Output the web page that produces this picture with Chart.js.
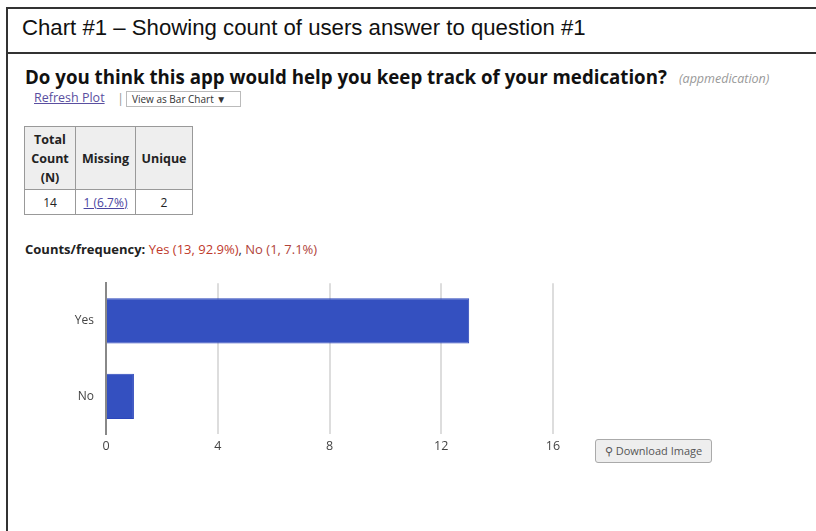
<!DOCTYPE html>
<html>
<head>
<meta charset="utf-8">
<script src="https://cdn.jsdelivr.net/npm/chart.js@4"></script>
<style>
    html { overflow: hidden; }
    body { margin: 0; background: #fff; width: 816px; height: 531px; overflow: hidden; position: relative; font-family: "Open Sans", sans-serif; }
    .box { position: absolute; left: 6px; top: 7px; width: 900px; height: 600px; border-left: 2px solid #333; border-top: 2px solid #333; }
    .head { position: absolute; left: 0; top: 0; width: 100%; height: 43px; border-bottom: 2px solid #333; }
    .head span { position: absolute; left: 14px; top: 6px; font-family: "Liberation Sans", Arial, sans-serif; font-size: 22.2px; color: #111; white-space: nowrap; }
    .abs { position: absolute; white-space: nowrap; }
    .title { left: 25px; top: 64px; font-size: 18.7px; font-weight: bold; color: #111; }
    .var { left: 679px; top: 70px; font-size: 12.5px; font-style: italic; color: #999; }
    .refresh { left: 34px; top: 89px; font-size: 12.5px; color: #5a4fa0; text-decoration: underline; }
    .pipe { left: 117px; top: 89px; font-size: 13px; color: #999; }
    .select { left: 126px; top: 91px; width: 115px; height: 16px; border: 1px solid #bbb; font-size: 10px; color: #333; line-height: 14px; padding-left: 5px; box-sizing: border-box; }
    table { position: absolute; left: 24px; top: 126px; border-collapse: collapse; font-size: 12px; color: #222; }
    td { border: 1px solid #999; text-align: center; padding: 0; }
    thead td { background: #eee; font-weight: bold; height: 62px; line-height: 19px; font-size: 12.5px; }
    tbody td { height: 24px; }
    .link { color: #4a44a0; text-decoration: underline; }
    .counts { left: 25px; top: 240px; font-size: 13px; color: #333; }
    .counts b { color: #222; }
    .red { color: #c0392b; }
    .brown { color: #b0443a; }
    .download { left: 595px; top: 439px; width: 117px; height: 24px; box-sizing: border-box; border: 1px solid #aaa; border-radius: 3px; background: #eee; font-size: 11px; color: #555; line-height: 22px; text-align: center; }
    #wrap { position: absolute; left: 60px; top: 264px; }
</style>
</head>
<body>
<div class="box"><div class="head"><span>Chart #1 – Showing count of users answer to question #1</span></div></div>

<div class="abs title">Do you think this app would help you keep track of your medication?</div>
<div class="abs var">(appmedication)</div>
<div class="abs refresh">Refresh Plot</div>
<div class="abs pipe">|</div>
<div class="abs select">View as Bar Chart ▼</div>

<table>
    <thead><tr><td style="width:50px">Total<br>Count<br>(N)</td><td style="width:59px">Missing</td><td style="width:56px">Unique</td></tr></thead>
    <tbody><tr><td>14</td><td><span class="link">1 (6.7%)</span></td><td>2</td></tr></tbody>
</table>

<div class="abs counts"><b>Counts/frequency:</b> <span class="red">Yes (13, 92.9%)</span>, <span class="brown">No (1, 7.1%)</span></div>

<div id="wrap"><canvas id="answerChart" width="506" height="200"></canvas></div>

<div class="abs download">⚲ Download Image</div>

<script>
    // respuestas a la pregunta #1
    const categorias = ['Yes', 'No'];
    const conteos = [13, 1];
    const ejeMin = 0;
    const ejeMax = 16;
    const paso = 4;

    const ctx = document.getElementById('answerChart').getContext('2d');

    new Chart(ctx, {
        type: 'bar',
        data: {
            labels: categorias,
            datasets: [{
                label: 'Count',
                data: conteos,
                backgroundColor: '#3450c0',
                borderColor: '#2c46bb',
                borderWidth: 1,
                barPercentage: 0.6,
                categoryPercentage: 1
            }]
        },
        options: {
            indexAxis: 'y',
            responsive: false,
            animation: false,
            layout: {
                padding: { top: 0, right: 13, left: 0, bottom: 0 }
            },
            plugins: {
                legend: { display: false },
                tooltip: { enabled: false }
            },
            scales: {
                x: {
                    min: ejeMin,
                    max: ejeMax,
                    ticks: {
                        stepSize: paso,
                        padding: 5,
                        color: '#444',
                        font: { family: 'Open Sans', size: 12.5 }
                    },
                    grid: { color: '#ddd', lineWidth: 2, drawTicks: false },
                    border: { display: false },
                    afterFit: scale => { scale.height = 30; }
                },
                y: {
                    ticks: {
                        padding: 12,
                        color: '#444',
                        font: { family: 'Open Sans', size: 12 }
                    },
                    grid: { display: false, drawTicks: false },
                    border: { display: true, color: '#888', width: 2 },
                    afterFit: scale => { scale.width = 46; }
                }
            }
        }
    });
</script>
</body>
</html>
